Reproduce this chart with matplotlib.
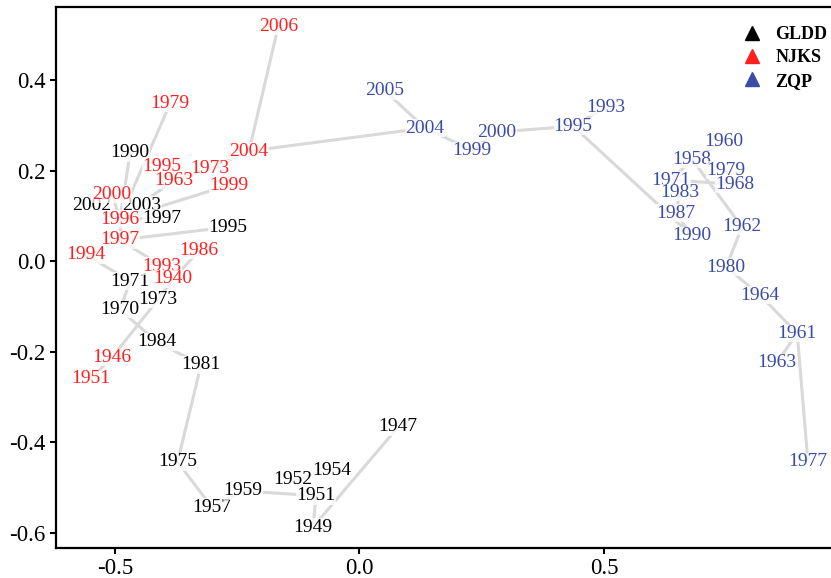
import matplotlib
matplotlib.use("Agg")
import matplotlib.pyplot as plt
from matplotlib.lines import Line2D

# ordination scores, one set per site
gldd_year = [1990, 2002, 2003, 1997, 1995, 1971, 1973, 1970, 1984, 1981,
             1975, 1957, 1959, 1952, 1954, 1951, 1949, 1947]
gldd_x = [-0.469, -0.547, -0.445, -0.404, -0.269, -0.469, -0.412, -0.490, -0.414, -0.324,
          -0.372, -0.302, -0.238, -0.136, -0.056, -0.089, -0.095, 0.079]
gldd_y = [0.239, 0.122, 0.124, 0.095, 0.075, -0.044, -0.085, -0.107, -0.178, -0.229,
          -0.443, -0.543, -0.507, -0.483, -0.461, -0.518, -0.587, -0.366]

njks_year = [2006, 1979, 2004, 1995, 1973, 1963, 1999, 2000, 1996, 1997,
             1994, 1986, 1993, 1940, 1946, 1951]
njks_x = [-0.166, -0.387, -0.226, -0.404, -0.306, -0.379, -0.267, -0.506, -0.490, -0.490,
          -0.559, -0.328, -0.404, -0.381, -0.506, -0.549]
njks_y = [0.519, 0.349, 0.243, 0.210, 0.204, 0.179, 0.168, 0.148, 0.093, 0.047,
          0.014, 0.023, -0.011, -0.039, -0.212, -0.260]

zqp_year = [2005, 2004, 1999, 2000, 1995, 1993, 1960, 1958, 1979, 1971,
            1968, 1983, 1987, 1990, 1962, 1980, 1964, 1961, 1963, 1977]
zqp_x = [0.052, 0.134, 0.230, 0.281, 0.437, 0.504, 0.745, 0.680, 0.748, 0.637,
         0.768, 0.655, 0.647, 0.680, 0.782, 0.750, 0.819, 0.895, 0.854, 0.917]
zqp_y = [0.376, 0.294, 0.245, 0.285, 0.298, 0.340, 0.265, 0.225, 0.201, 0.179,
         0.170, 0.152, 0.106, 0.056, 0.076, -0.013, -0.075, -0.159, -0.223, -0.443]

# links between samples
edges = [
    ("N2006", "N2004"), ("N2004", "Z2004"), ("N2004", "N1973"), ("N1973", "N1963"),
    ("N1963", "N1996"), ("N1995", "N1963"), ("N1999", "N1996"), ("N1979", "N1996"),
    ("G1990", "N1996"), ("G2003", "N1996"), ("G2002", "N1996"), ("N2000", "N1996"),
    ("G1997", "N1996"), ("N1996", "N1997"), ("N1997", "G1995"), ("N1997", "N1993"),
    ("N1993", "N1986"), ("N1986", "N1940"), ("N1940", "G1973"), ("G1973", "N1946"),
    ("N1946", "N1951"), ("N1997", "N1994"), ("N1994", "G1971"), ("G1971", "G1970"),
    ("G1970", "G1984"), ("G1984", "G1981"), ("G1981", "G1975"), ("G1975", "G1957"),
    ("G1957", "G1959"), ("G1959", "G1951"), ("G1951", "G1952"), ("G1952", "G1954"),
    ("G1951", "G1949"), ("G1949", "G1947"),
    ("Z2005", "Z2004"), ("Z2004", "Z1999"), ("Z1999", "Z2000"), ("Z2000", "Z1995"),
    ("Z1995", "Z1993"), ("Z1995", "Z1990"), ("Z1990", "Z1987"), ("Z1987", "Z1983"),
    ("Z1983", "Z1971"), ("Z1971", "Z1958"), ("Z1958", "Z1960"), ("Z1971", "Z1968"),
    ("Z1958", "Z1962"), ("Z1979", "Z1968"), ("Z1962", "Z1980"), ("Z1980", "Z1964"),
    ("Z1964", "Z1961"), ("Z1961", "Z1963"), ("Z1961", "Z1977"),
]

sites = [
    ("GLDD", "G", "#000000", gldd_year, gldd_x, gldd_y),
    ("NJKS", "N", "#FF1F1F", njks_year, njks_x, njks_y),
    ("ZQP", "Z", "#3B4CA8", zqp_year, zqp_x, zqp_y),
]

pos = {}
for name, key, col, years, xs, ys in sites:
    for yr, x, y in zip(years, xs, ys):
        pos[key + str(yr)] = (x, y)

plt.rcParams['font.family'] = ['Liberation Serif', 'DejaVu Serif']
plt.rcParams['axes.unicode_minus'] = False

fig = plt.figure(figsize=(8.31, 5.78), dpi=100)
ax = fig.add_axes([56 / 831, 30.3 / 578, (845 - 56) / 831, 540.4 / 578])

for a, b in edges:
    ax.plot([pos[a][0], pos[b][0]], [pos[a][1], pos[b][1]],
            color="#D9D9D9", lw=2.2, zorder=1, solid_capstyle="round")

for name, key, col, years, xs, ys in sites:
    for yr, x, y in zip(years, xs, ys):
        ax.text(x, y, str(yr), color=col, fontsize=14, ha="center", va="center",
                zorder=3,
                bbox=dict(facecolor="white", edgecolor="none", alpha=0.75, pad=0.2))

ax.set_xlim(-0.6206, 0.9928)
ax.set_ylim(-0.6325, 0.5605)
ax.set_xticks([-0.5, 0.0, 0.5])
ax.set_yticks([-0.6, -0.4, -0.2, 0.0, 0.2, 0.4])
ax.set_xticklabels(["-0.5", "0.0", "0.5"])
ax.set_yticklabels(["-0.6", "-0.4", "-0.2", "0.0", "0.2", "0.4"])
ax.tick_params(labelsize=16.5, width=1.5, length=4, color="black")
for s in ax.spines.values():
    s.set_linewidth(1.6)

handles = [Line2D([], [], marker="^", ls="none", color=col, markersize=10)
           for name, key, col, *_ in sites]
fig.legend(handles, [s[0] for s in sites], loc="upper left",
           bbox_to_anchor=(733 / 831, 1 - 17 / 578), frameon=False,
           prop={"weight": "bold", "size": 13}, handletextpad=0.75,
           labelspacing=0.35, borderpad=0, handlelength=1.1)

fig.savefig("out.png", dpi=100)
